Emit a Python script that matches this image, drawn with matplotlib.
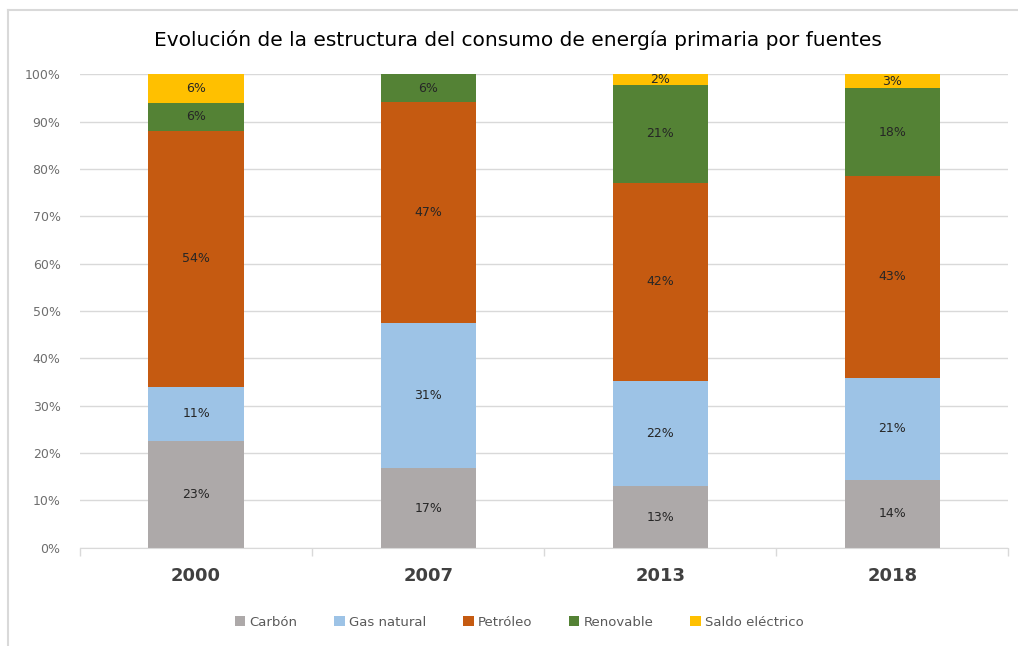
import numpy as np
import matplotlib.pyplot as plt
from matplotlib.lines import Line2D

years = ['2000', '2007', '2013', '2018']
fuentes = ['Carbón', 'Gas natural', 'Petróleo', 'Renovable', 'Saldo eléctrico']
carbon = [22.6, 16.8, 13.0, 14.4]
gas = [11.4, 30.7, 22.3, 21.4]
petroleo = [54.0, 46.6, 41.8, 42.8]
renovable = [6.0, 5.9, 20.6, 18.4]
saldo = [6.0, 0.0, 2.3, 3.0]
colores = ['#ADA9A9', '#9DC3E6', '#C55A11', '#548235', '#FFC000']

series = [carbon, gas, petroleo, renovable, saldo]

fig = plt.figure(figsize=(10.18, 6.46), dpi=100)
ax = fig.add_axes([0.0786, 0.152, 0.912, 0.733])

x = np.arange(len(years))
bottom = np.zeros(len(years))
for nombre, vals, col in zip(fuentes, series, colores):
    vals = np.array(vals)
    ax.bar(x, vals, 0.41, bottom=bottom, color=col, label=nombre)
    for xi, b, v in zip(x, bottom, vals):
        if v > 0:
            ax.text(xi, b + v / 2, '%d%%' % round(v), ha='center', va='center',
                    fontsize=9, color='#262626')
    bottom += vals

ax.set_xlim(-0.5, len(years) - 0.5)
ax.set_ylim(0, 100)
ax.set_yticks(np.arange(0, 101, 10))
ax.set_yticklabels(['%d%%' % v for v in range(0, 101, 10)], fontsize=9, color='#6E6E6E')
ax.yaxis.grid(True, color='#D9D9D9', linewidth=1)
ax.set_axisbelow(True)
ax.tick_params(axis='y', length=0, pad=14)

ax.set_xticks(x)
ax.set_xticklabels(years, fontsize=13, fontweight='bold', color='#404040')
ax.set_xticks(np.arange(-0.5, len(years)), minor=True)
ax.tick_params(axis='x', which='major', length=0, pad=14)
ax.tick_params(axis='x', which='minor', length=6, color='#D9D9D9', width=1)

for s in ['top', 'right', 'left']:
    ax.spines[s].set_visible(False)
ax.spines['bottom'].set_color('#D9D9D9')

fig.text(0.509, 0.938, 'Evolución de la estructura del consumo de energía primaria por fuentes',
         ha='center', va='center', fontsize=14.5, color='#000000')

fig.legend(loc='center', bbox_to_anchor=(0.51, 0.037), ncol=5, frameon=False,
           fontsize=9.5, handlelength=0.8, handleheight=0.8, columnspacing=2.8,
           handletextpad=0.3, labelcolor='#595959')

# marco exterior del gráfico
fig.add_artist(Line2D([8 / 1018, 8 / 1018], [0, 1 - 10 / 646], transform=fig.transFigure,
                      color='#D9D9D9', linewidth=1.5))
fig.add_artist(Line2D([8 / 1018, 1], [1 - 10 / 646, 1 - 10 / 646], transform=fig.transFigure,
                      color='#D9D9D9', linewidth=1.5))

fig.savefig('out.png', dpi=100)
